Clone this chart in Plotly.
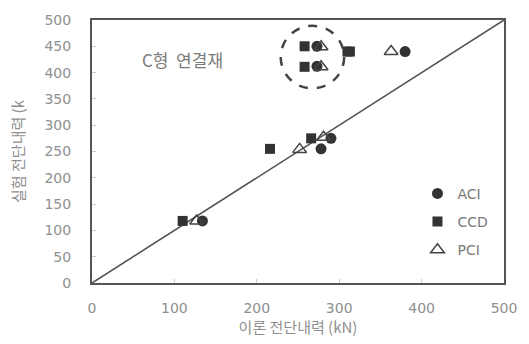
import plotly.graph_objects as go

# Data (theory kN, experiment kN)
aci_x = [380, 273, 273, 290, 278, 134]
aci_y = [440, 450, 412, 275, 255, 118]
ccd_x = [258, 258, 310, 313, 266, 216, 110]
ccd_y = [450, 411, 440, 440, 275, 255, 118]
pci_x = [363, 278, 278, 281, 252, 127]
pci_y = [440, 449, 411, 277, 254, 118]
line_x = [0, 500]
line_y = [0, 500]
ticks = [0, 50, 100, 150, 200, 250, 300, 350, 400, 450, 500]
xticks = [0, 100, 200, 300, 400, 500]

FONT = "DejaVu Sans, Noto Sans CJK KR, sans-serif"
KFONT = "Noto Sans CJK KR, sans-serif"
GRAY = "#8f8f8f"

fig = go.Figure()
fig.add_trace(go.Scatter(x=line_x, y=line_y, mode="lines",
                         line=dict(color="#555555", width=1.6),
                         showlegend=False, hoverinfo="skip"))
fig.add_trace(go.Scatter(x=aci_x, y=aci_y, mode="markers", name="ACI",
                         legendgroup="a",
                         marker=dict(symbol="circle", size=11, color="#333333")))
fig.add_trace(go.Scatter(x=ccd_x, y=ccd_y, mode="markers", name="CCD",
                         legendgroup="b",
                         marker=dict(symbol="square", size=10, color="#333333")))
fig.add_trace(go.Scatter(x=pci_x, y=pci_y, mode="markers", name="PCI",
                         legendgroup="c",
                         marker=dict(symbol="triangle-up-open", size=12,
                                     color="#444444", line=dict(width=1.5))))

fig.add_shape(type="circle", xref="x", yref="y",
              x0=229, x1=306, y0=370, y1=489,
              line=dict(color="#444444", width=2.5, dash="dash"))

fig.add_annotation(x=110, y=425, xref="x", yref="y", text="C형  연결재",
                   showarrow=False, font=dict(family=KFONT, size=17, color="#7a7a7a"))

fig.update_layout(
    width=529, height=344,
    margin=dict(l=92, r=17, t=15, b=59),
    paper_bgcolor="white", plot_bgcolor="white",
    font=dict(family=FONT, size=14, color=GRAY),
    legend=dict(x=0.79, y=0.40, xanchor="left", yanchor="top",
                bgcolor="rgba(0,0,0,0)", font=dict(size=14, color="#7a7a7a"),
                tracegroupgap=7, itemwidth=30),
    xaxis=dict(range=[0, 500], tickvals=xticks, showgrid=False, zeroline=False,
               showline=True, linecolor="#555555", linewidth=2, mirror=True,
               ticks="inside", ticklen=4, tickcolor="#cccccc",
               ticklabelstandoff=11,
               title=dict(text="이론 전단내력 (kN)", standoff=6,
                          font=dict(family=KFONT, size=15, color=GRAY))),
    yaxis=dict(range=[0, 500], tickvals=ticks, showgrid=False, zeroline=False,
               showline=True, linecolor="#555555", linewidth=2, mirror=True,
               ticks="inside", ticklen=4, tickcolor="#cccccc",
               ticklabelstandoff=16,
               title=dict(text="실험 전단내력 (k", standoff=16,
                          font=dict(family=KFONT, size=15, color=GRAY))),
)

fig.write_html("out.html")
